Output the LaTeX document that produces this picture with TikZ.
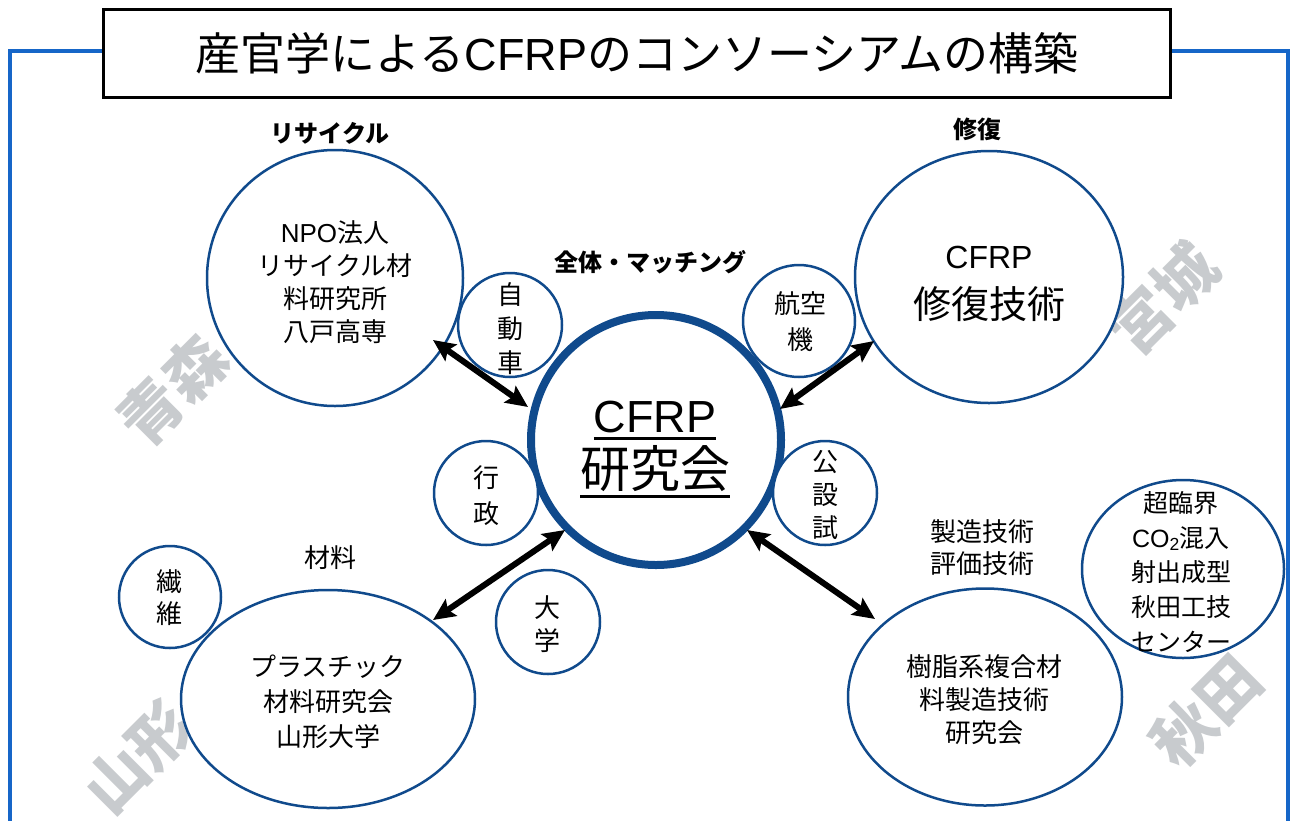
\documentclass[tikz,border=0pt]{standalone}
\usepackage{fontspec}
\setmainfont{Noto Sans CJK JP}
\newfontfamily\lat{Liberation Sans}
\usetikzlibrary{shapes.geometric,arrows.meta}
\definecolor{cblue}{RGB}{16,74,140}
\definecolor{fblue}{RGB}{22,102,200}
\definecolor{wmgrey}{RGB}{200,203,206}
\newcommand{\fs}[2]{\fontsize{#1}{#2}\selectfont}
\newcommand{\ulx}[2]{\vtop{\hbox{#2}\kern#1\hrule height 3pt}}
\begin{document}
\begin{tikzpicture}[x=1pt,y=-1pt,
  ring/.style={circle,draw=cblue,line width=2.5pt,fill=white,inner sep=0pt,minimum size=#1},
  oval/.style 2 args={ellipse,draw=cblue,line width=2.5pt,fill=white,inner sep=0pt,minimum width=#1,minimum height=#2},
  txt/.style={align=center,inner sep=0pt,font=\fs{26}{33}},
  vtxt/.style={align=center,inner sep=0pt,font=\fs{26}{#1}},
  blbl/.style={inner sep=0pt,font=\fs{24}{30}\bfseries},
  wmk/.style={inner sep=0pt,text=wmgrey,rotate=45,font=\fs{62}{62}\bfseries},
  frame/.style={draw=fblue,line width=4pt},
  dblarrow/.style={line width=6pt,{Stealth[length=22pt,width=20pt,inset=4pt]}-{Stealth[length=22pt,width=20pt,inset=4pt]}}
]
\useasboundingbox (0,0) rectangle (1293,820);
\fill[white] (0,0) rectangle (1293,820);

% frame and title
\node[draw,line width=3pt,fill=white,minimum width=1067,minimum height=88,inner sep=0pt,font=\fs{45}{50}] (title) at (637,53) {産官学による{\lat CFRP}のコンソーシアムの構築};
\coordinate (fL) at (10,830);
\coordinate (fR) at (1288,830);
\draw[frame] ([yshift=2.5pt]title.west) -| (fL);
\draw[frame] ([yshift=2.5pt]title.east) -| (fR);

% watermarks
\node[wmk] (wAomori) at (173,390) {青森};
\node[wmk] (wMiyagi) at (1163,299) {宮城};
\node[wmk] (wYamagata) at (138,757) {山形};
\node[wmk] (wAkita) at (1206,711) {秋田};

% circles
\node[ring=256] (recycle) at (335,278) {};
\node[oval={268}{252}] (repair) at (989,277) {};
\node[circle,draw=cblue,line width=8pt,fill=white,inner sep=0pt,minimum size=250] (core) at (656,440) {};
\node[ring=104] (car) at (510,325) {};
\node[ring=112] (air) at (799,321) {};
\node[ring=104] (gov) at (486,493) {};
\node[ring=104] (pub) at (825,493) {};
\node[ring=104] (univ) at (548,622) {};
\node[ring=102] (fiber) at (170,597) {};
\node[oval={294}{218}] (plastic) at (328,699) {};
\node[oval={274}{217}] (resin) at (985,697) {};
\node[oval={202}{178}] (akita) at (1183,569) {};

% arrow end points
\coordinate (a1s) at (433,340);
\coordinate (a1e) at (528,407);
\coordinate (a2s) at (780,409);
\coordinate (a2e) at (874,341);
\coordinate (a3s) at (565,530);
\coordinate (a3e) at (433,620);
\coordinate (a4s) at (747,530);
\coordinate (a4e) at (875,619);
\draw[dblarrow] (a1s) -- (a1e);
\draw[dblarrow] (a2s) -- (a2e);
\draw[dblarrow] (a3s) -- (a3e);
\draw[dblarrow] (a4s) -- (a4e);

% texts in circles
\node[txt] (trecycle) at (335,282) {{\lat NPO}法人\\リサイクル材\\料研究所\\八戸高専};
\node[inner sep=0pt,font=\fs{32}{36}\lat] (trepair1) at (989,257) {CFRP};
\node[inner sep=0pt,font=\fs{38}{42}] (trepair2) at (989,304) {修復技術};
\node[inner sep=0pt,anchor=base,font=\fs{45}{50}\lat] (tcore1) at (655,432) {\ulx{4.5pt}{CFRP}};
\node[inner sep=0pt,anchor=base,font=\fs{50}{55}] (tcore2) at (655,487) {\ulx{3.5pt}{研究会}};
\node[vtxt=34] (tcar) at (510,329) {自\\動\\車};
\node[vtxt=36] (tair) at (800,322) {航空\\機};
\node[vtxt=36] (tgov) at (486,496) {行\\政};
\node[vtxt=33] (tpub) at (825,495) {公\\設\\試};
\node[vtxt=33] (tuniv) at (547,624) {大\\学};
\node[vtxt=32] (tfiber) at (169,598) {繊\\維};
\node[txt,font=\fs{26}{35}] (tplastic) at (328,702) {プラスチック\\材料研究会\\山形大学};
\node[txt] (tresin) at (984,700) {樹脂系複合材\\料製造技術\\研究会};
\node[vtxt=34.75,font=\fs{25}{34.75}] (takita) at (1181,572) {超臨界\\{\lat CO}\textsubscript{\lat 2}混入\\射出成型\\秋田工技\\センター};

% labels
\node[blbl] (lrecycle) at (330,133) {リサイクル};
\node[blbl] (lrepair) at (977,129) {修復};
\node[blbl] (lall) at (650,262) {全体・マッチング};
\node[inner sep=0pt,font=\fs{26}{30}] (lmat) at (330,558) {材料};
\node[txt,font=\fs{26}{32}] (lmfg) at (982,548) {製造技術\\評価技術};
\end{tikzpicture}
\end{document}
